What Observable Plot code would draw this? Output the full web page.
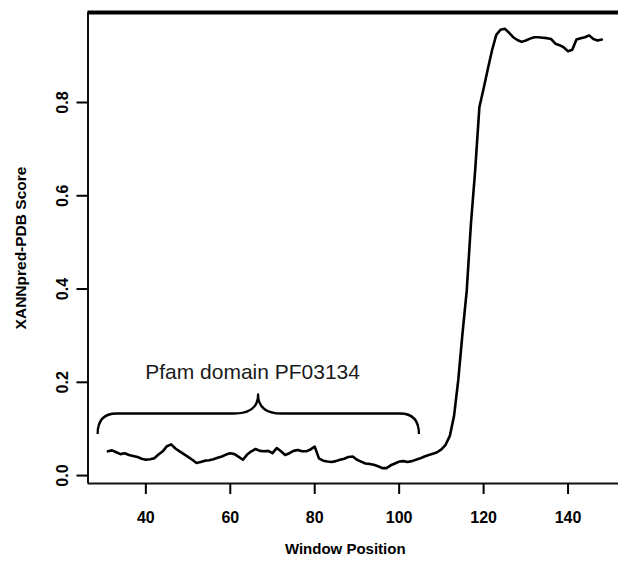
<!DOCTYPE html>
<html><head><meta charset="utf-8">
<script src="https://cdn.jsdelivr.net/npm/d3@7"></script>
<script src="https://cdn.jsdelivr.net/npm/@observablehq/plot@0.6"></script>
<style>
html,body{margin:0;padding:0;background:#fff;}
#chart svg{display:block;}
</style></head><body><div id="chart"></div>
<script>
// Window positions start at 31 (one score per window, 31..148)
const windowStart = 31;
const scores = [
  0.052,0.054,0.050,0.046,0.048,0.044,0.042,0.040,0.036,0.034, // 31-40
  0.035,0.037,0.045,0.052,0.063,0.067,0.058,0.052,0.046,0.040, // 41-50
  0.034,0.027,0.029,0.032,0.033,0.035,0.038,0.041,0.045,0.048, // 51-60
  0.046,0.040,0.034,0.045,0.052,0.057,0.053,0.052,0.053,0.048, // 61-70
  0.059,0.052,0.044,0.048,0.053,0.055,0.052,0.052,0.056,0.062, // 71-80
  0.037,0.032,0.030,0.029,0.031,0.034,0.036,0.040,0.041,0.034, // 81-90
  0.030,0.026,0.025,0.023,0.020,0.016,0.016,0.022,0.026,0.030, // 91-100
  0.031,0.029,0.031,0.034,0.037,0.041,0.044,0.047,0.050,0.056, // 101-110
  0.066,0.085,0.128,0.205,0.305,0.396,0.540,0.654,0.790,0.830, // 111-120
  0.872,0.912,0.945,0.956,0.958,0.950,0.940,0.934,0.930,0.933, // 121-130
  0.937,0.940,0.940,0.939,0.938,0.936,0.926,0.923,0.918,0.910, // 131-140
  0.913,0.935,0.938,0.940,0.944,0.936,0.933,0.935              // 141-148
];
const xTicks = [40, 60, 80, 100, 120, 140];
const yTicks = [0, 0.2, 0.4, 0.6, 0.8];
const xDomain = [26.3, 151.95];
const yDomain = [-0.017, 0.993];
const xTitle = "Window Position";
const yTitle = "XANNpred-PDB Score";
const braceLabel = "Pfam domain PF03134";
const braceX = [28.7, 66.7, 104.8];   // brace start, tip, end (window position)
const braceY = [0.088, 0.132, 0.173]; // brace ends, bar, tip (score)
const braceLabelY = 0.221;

const data = scores.map((s, i) => ({pos: windowStart + i, score: s}));
const font = "'Liberation Sans', Arial, Helvetica, sans-serif";

const plot = Plot.plot({
  width: 618, height: 562,
  marginLeft: 87.5, marginRight: 0, marginTop: 12, marginBottom: 79,
  style: {fontFamily: font, background: "#fff", color: "#000"},
  x: {domain: xDomain},
  y: {domain: yDomain},
  marks: [
    Plot.ruleX([xDomain[0]], {stroke: "#111", strokeWidth: 2}),
    Plot.ruleY([yDomain[0]], {stroke: "#111", strokeWidth: 2}),
    Plot.ruleY([yDomain[1]], {stroke: "#000", strokeWidth: 4}),
    Plot.axisX({ticks: xTicks, tickSize: 11, tickPadding: 17, fontSize: 16, fontWeight: "bold", label: null, strokeWidth: 2}),
    Plot.axisY({ticks: yTicks, tickSize: 11, tickPadding: 9, tickRotate: -90, tickFormat: d3.format(".1f"), fontSize: 16, fontWeight: "bold", label: null, strokeWidth: 2}),
    Plot.line(data, {x: "pos", y: "score", stroke: "#000", strokeWidth: 2.6}),
    Plot.text([braceLabel], {x: braceX[1], y: braceLabelY, text: d => d, fontSize: 21, fontWeight: "normal", fill: "#1a1a1a", dx: -6}),
    Plot.text([xTitle], {frameAnchor: "bottom", text: d => d, dy: 70, dx: -8, fontWeight: "bold", fontSize: 15}),
    Plot.text([yTitle], {frameAnchor: "left", text: d => d, textAnchor: "middle", rotate: -90, dx: -67, fontWeight: "bold", fontSize: 15.5})
  ]
});

// Curly brace annotation, positioned through the plot's own scales
const sx = plot.scale("x"), sy = plot.scale("y");
const X = v => sx.apply(v), Y = v => sy.apply(v);
const x0 = X(braceX[0]), xm = X(braceX[1]), x1 = X(braceX[2]);
const ye = Y(braceY[0]), yb = Y(braceY[1]), yt = Y(braceY[2]);
const curl = 19, half = 24;
const d = `M${x0},${ye} Q${x0},${yb} ${x0 + curl},${yb} L${xm - half},${yb} Q${xm},${yb} ${xm},${yt} ` +
          `Q${xm},${yb} ${xm + half},${yb} L${x1 - curl},${yb} Q${x1},${yb} ${x1},${ye}`;
d3.select(plot).append("path").attr("d", d).attr("fill", "none")
  .attr("stroke", "#000").attr("stroke-width", 2.3).attr("stroke-linejoin", "round");

document.getElementById("chart").appendChild(plot);
</script></body></html>
